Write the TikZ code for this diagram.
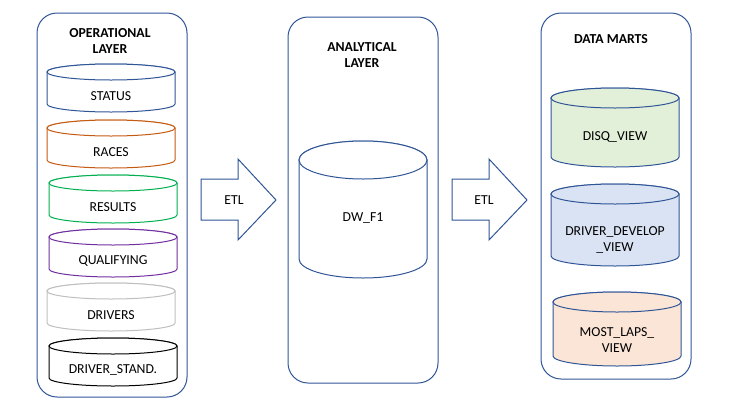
\documentclass[tikz,border=0pt]{standalone}
\usepackage{fontspec}
\setmainfont{Carlito}
\usepackage{tikz}

\definecolor{layerblue}{HTML}{2F5597}
\definecolor{racesorange}{HTML}{C55A11}
\definecolor{resultsgreen}{HTML}{00B050}
\definecolor{qualipurple}{HTML}{7030A0}
\definecolor{driversgray}{HTML}{BFBFBF}
\definecolor{disqfill}{HTML}{E2F0D9}
\definecolor{developfill}{HTML}{DAE3F3}
\definecolor{lapsfill}{HTML}{FBE5D6}

% name, left x, top y, width, height, ry, style, text y, text
\newcommand{\dbcyl}[9]{%
	\path[#7] (#2,-#3-#6) -- (#2,-#3-#5+#6)
		arc[start angle=180, end angle=360, x radius=#4/2, y radius=#6]
		-- (#2+#4,-#3-#6)
		arc[start angle=0, end angle=180, x radius=#4/2, y radius=#6] -- cycle;
	\draw[#7] (#2+#4/2,-#3-#6) ellipse [x radius=#4/2, y radius=#6];
	\node[align=center] (#1) at (#2+#4/2,-#8) {#9};
}

\begin{document}
\begin{tikzpicture}[x=0.75pt, y=0.75pt, font=\fontsize{10.3}{12}\selectfont]

	\tikzstyle layer box=[draw=layerblue, line width=0.75pt, rounded corners=15pt];
	\tikzstyle table lines=[line width=0.75pt, fill=white];
	\tikzstyle etl arrow=[draw=layerblue, line width=0.75pt, fill=white, line join=miter];
	\tikzstyle layer title=[font=\fontsize{10.3}{12}\selectfont\bfseries, align=center];

	\useasboundingbox (0,0) rectangle (729,-404);

	% layers
	\draw[layer box] (37,-13) rectangle (187,-397);
	\draw[layer box] (288,-17) rectangle (438,-383);
	\draw[layer box] (541,-13) rectangle (691,-379);

	\node[layer title] (opTitle) at (110,-41) {OPERATIONAL\\LAYER};
	\node[layer title] (anTitle) at (362,-55) {ANALYTICAL\\LAYER};
	\node[layer title] (dmTitle) at (611,-39) {DATA MARTS};

	% operational tables
	\foreach \n/\x/\y/\col/\lbl in {status/47/64/layerblue/STATUS,
			races/47/120/racesorange/RACES,
			results/49/175/resultsgreen/RESULTS,
			quali/49/229/qualipurple/QUALIFYING,
			drivers/47/283/driversgray/DRIVERS,
			dstand/49/338/black/DRIVER\_STAND.}
		\dbcyl{\n}{\x}{\y}{128}{48}{8}{table lines, draw=\col}{\y-32}{\lbl};

	% ETL arrows
	\draw[etl arrow] (201,-179) -- (238,-179) -- (238,-159) -- (276,-200)
		-- (238,-240) -- (238,-220) -- (201,-220) -- cycle;
	\node (etlA) at (234,-200) {ETL};
	\draw[etl arrow] (452,-179) -- (489,-179) -- (489,-159) -- (527,-200)
		-- (489,-240) -- (489,-220) -- (452,-220) -- cycle;
	\node (etlB) at (484,-200) {ETL};

	% warehouse
	\dbcyl{dw}{299}{141}{128}{137}{19}{table lines, draw=layerblue}{218}{DW\_F1};

	% data marts
	\dbcyl{disq}{551}{88}{128}{79}{10}{table lines, draw=layerblue, fill=disqfill}{137}{DISQ\_VIEW};
	\dbcyl{develop}{551}{184}{128}{82}{10}{table lines, draw=layerblue, fill=developfill}{240}{DRIVER\_DEVELOP\\\_VIEW};
	\dbcyl{laps}{553}{292}{128}{74}{10}{table lines, draw=layerblue, fill=lapsfill}{340}{MOST\_LAPS\_\\VIEW};

\end{tikzpicture}
\end{document}
